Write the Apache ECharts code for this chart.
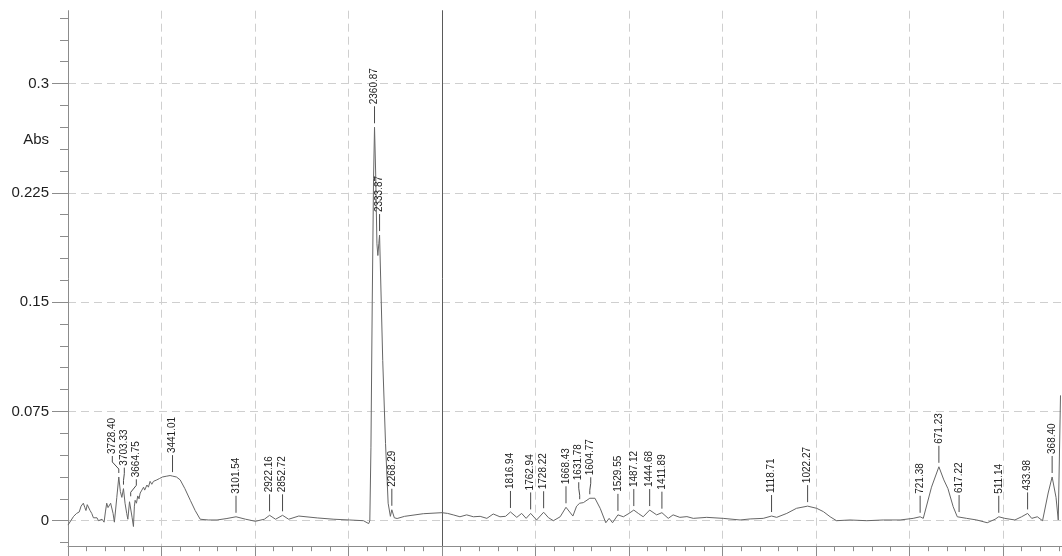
<!DOCTYPE html>
<html><head><meta charset="utf-8">
<script src="https://cdn.jsdelivr.net/npm/echarts@6/dist/echarts.min.js"></script>
<style>html,body{margin:0;padding:0;background:#fff}#c{width:1062px;height:556px}</style>
</head><body><div id="c"></div>
<script>
// ---- spectrum (wavenumber cm-1, absorbance) ----
const wavenumbers = [4000,3985,3970,3954,3940,3930,3918,3910,3904,3897,3891,3882,3873,3864,3855,3845,3837,3829,3818,3807,3800,3793,3786,3779,3772,3766,3759,3752,3745,3739,3728.4,3720,3712,3703.3,3695,3686,3680,3671,3664.75,3657,3650,3645,3641,3634,3627,3620,3614,3605,3596,3590,3578,3570,3561,3552,3543,3534,3525,3510,3495,3475,3454,3441,3420,3400,3375,3346,3320,3293,3250,3203,3150,3101.5,3050,2998,2950,2922,2890,2852.7,2820,2766,2667,2578,2494,2420,2392,2386,2380,2373,2366,2360.87,2355,2348,2343,2338,2333.87,2317,2302,2288,2276,2268.3,2262,2255,2240,2200,2100,2000,
  1985,1970,1952,1934,1916,1898,1880,1863,1845,1830,1816.94,1800,1787,1775,1762.94,1747,1728.22,1715,1702,1684,1668.43,1650,1640,1631.78,1622,1604.77,1591,1577,1562,1553,1544,1529.55,1515,1500,1487.12,1475,1462,1444.68,1426,1411.89,1395,1382,1364,1345,1328,1292,1248,1203,1176,1141,1118.71,1105,1078,1052,1022.27,998,980,962,945,909,864,820,775,740,721.38,713,691,671.23,658,647,633,622,617.22,597,570,542,521,511.14,495,468,450,433.98,423,408,394,379,368.4,358,352,346];
const absorbance = [-0.003,0.000,0.003,0.005,0.006,0.010,0.012,0.009,0.007,0.011,0.010,0.007,0.005,0.002,0.001,0.002,0.000,0.000,0.001,-0.001,0.006,0.012,0.009,0.010,0.012,0.011,0.005,-0.001,0.008,0.016,0.030,0.020,0.016,0.022,0.012,0.005,0.001,0.013,0.014,0.002,-0.004,0.010,0.014,0.012,0.017,0.015,0.019,0.021,0.023,0.021,0.0245,0.023,0.027,0.025,0.027,0.026,0.028,0.029,0.030,0.0305,0.031,0.0306,0.030,0.028,0.022,0.014,0.007,0.001,0.0005,0.0005,0.0015,0.0027,0.001,-0.0004,0.001,0.0037,0.001,0.0037,0.001,0.0032,0.0019,0.001,0.0005,0.000,-0.002,0.000,0.050,0.150,0.235,0.270,0.240,0.190,0.182,0.190,0.196,0.110,0.053,0.012,0.003,0.0075,0.0065,0.002,0.0015,0.003,0.0048,0.0055,
  0.005,0.004,0.0027,0.004,0.0027,0.003,0.0016,0.0046,0.0027,0.003,0.006,0.0023,0.005,0.0016,0.005,0.0005,0.0058,0.002,0.000,0.0027,0.0092,0.0032,0.010,0.012,0.0124,0.0154,0.0154,0.0085,-0.0014,0.0016,-0.0014,0.004,0.0027,0.005,0.0073,0.005,0.0027,0.0073,0.004,0.0055,0.0016,0.004,0.0023,0.0028,0.0016,0.0023,0.0016,0.0005,0.0012,0.0016,0.0032,0.0023,0.005,0.0085,0.010,0.0085,0.0062,0.0027,0.000,0.0005,0.000,0.0005,0.0005,0.0016,0.0027,0.0016,0.023,0.037,0.028,0.022,0.0096,0.0027,0.0032,0.0016,0.0005,-0.0014,0.001,0.0027,0.0016,0.0005,0.0027,0.005,0.0016,0.0027,0.000,0.019,0.030,0.016,0.0005,0.086];
// ---- labelled peaks ----
const peakWn  = [3728.40,3703.33,3664.75,3441.01,3101.54,2922.16,2852.72,2360.87,2333.87,2268.29,1816.94,1762.94,1728.22,1668.43,1631.78,1604.77,1529.55,1487.12,1444.68,1411.89,1118.71,1022.27,721.38,671.23,617.22,511.14,433.98,368.40];
const peakAbs = [0.030,0.022,0.014,0.0306,0.0027,0.0037,0.0037,0.270,0.196,0.0075,0.006,0.005,0.0058,0.0092,0.012,0.0154,0.004,0.0073,0.0073,0.0055,0.0032,0.010,0.0027,0.037,0.0032,0.0027,0.005,0.030];
// ---- axis ticks ----
const yTickValues = [0, 0.075, 0.15, 0.225, 0.3];
const rightTickValues = [500, 750, 1000, 1250, 1500, 1750, 2000];
const yLabel = 'Abs';

const yMinor = [];
for (let k = -1; k <= 23; k++) { if (k % 5 !== 0) yMinor.push(+(k * 0.015).toFixed(4)); }
const rightMinor = [];
for (let v = 350; v < 2000; v += 50) { if (v % 250 !== 0) rightMinor.push(v); }

const FONT = '"Liberation Sans", Arial, sans-serif';
const AX = '#8c8c8c';
const GRIDC = '#cfcfcf';
const YMIN = -0.0175, YMAX = 0.35;

const leftData = [], rightData = [];
wavenumbers.forEach((w, i) => {
  if (w >= 2000) leftData.push([w, absorbance[i]]);
  if (w <= 2000) rightData.push([w, absorbance[i]]);
});
const leftPeaks = [], rightPeaks = [];
peakWn.forEach((w, i) => (w > 2000 ? leftPeaks : rightPeaks).push({ wn: w, abs: peakAbs[i] }));

const GAP = 4, LINE_TOP = 21, TEXT_OFF = 23, TEXT_LEN = 37, SEP = 12;

function spreadLabels(pts) {
  const order = pts.map((p, i) => i).sort((a, b) => pts[a][0] - pts[b][0]);
  const xs = order.map(i => pts[i][0]);
  const ys = order.map(i => pts[i][1]);
  let groups = xs.map((x, i) => ({ start: i, n: 1, center: x }));
  let changed = true;
  while (changed) {
    changed = false;
    for (let g = 0; g < groups.length - 1; g++) {
      const a = groups[g], b = groups[g + 1];
      const aEnd = a.center + (a.n - 1) * SEP / 2;
      const bStart = b.center - (b.n - 1) * SEP / 2;
      const ia = a.start + a.n - 1, ib = b.start;
      const topA = ys[ia] - TEXT_OFF - TEXT_LEN, botA = ys[ia] - GAP;
      const topB = ys[ib] - TEXT_OFF - TEXT_LEN, botB = ys[ib] - GAP;
      const vOverlap = !(botA < topB || botB < topA);
      if (bStart - aEnd < SEP && vOverlap) {
        const n = a.n + b.n;
        let sum = 0;
        for (let k = a.start; k < a.start + n; k++) sum += xs[k];
        groups.splice(g, 2, { start: a.start, n: n, center: sum / n });
        changed = true;
        break;
      }
    }
  }
  const out = [];
  groups.forEach(g => {
    for (let k = 0; k < g.n; k++) out[order[g.start + k]] = g.center + (k - (g.n - 1) / 2) * SEP;
  });
  return out;
}

function labelSeries(xIdx, yIdx, list) {
  return {
    type: 'custom', xAxisIndex: xIdx, yAxisIndex: yIdx, silent: true, clip: false, z: 5,
    data: list.map(p => [p.wn, p.abs]),
    renderItem: function (params, api) {
      const pts = list.map(p => api.coord([p.wn, p.abs]));
      const lxs = spreadLabels(pts);
      const i = params.dataIndex;
      const px = pts[i][0], py = pts[i][1], lx = lxs[i];
      let points;
      if (Math.abs(lx - px) < 0.5) points = [[px, py - GAP], [px, py - LINE_TOP]];
      else points = [[px, py - GAP], [px, py - 8], [lx, py - 15], [lx, py - LINE_TOP]];
      return {
        type: 'group',
        children: [
          { type: 'polyline', shape: { points: points }, style: { stroke: '#4a4a4a', lineWidth: 1, fill: null } },
          { type: 'text', x: lx, y: py - TEXT_OFF, rotation: Math.PI / 2,
            style: { text: list[i].wn.toFixed(2), fontSize: 10, fontFamily: FONT, fill: '#222',
                     align: 'left', verticalAlign: 'middle' } }
        ]
      };
    }
  };
}

const dashed = { show: true, lineStyle: { color: GRIDC, type: [8, 5], width: 1 } };

const option = {
  animation: false,
  backgroundColor: '#fff',
  grid: [
    { left: 68, top: 10.7, width: 374, height: 535.5 },
    { left: 442, top: 10.7, width: 620, height: 535.5 }
  ],
  xAxis: [
    { gridIndex: 0, type: 'value', min: 2000, max: 4000, interval: 500, inverse: true, position: 'bottom',
      axisLine: { show: true, onZero: false, lineStyle: { color: AX } },
      axisTick: { show: true, length: 10, lineStyle: { color: AX } },
      minorTick: { show: true, splitNumber: 5, length: 5, lineStyle: { color: AX } },
      axisLabel: { show: false }, splitLine: dashed },
    { gridIndex: 1, type: 'value', min: 342, max: 2000, inverse: true, position: 'bottom',
      axisLine: { show: true, onZero: false, lineStyle: { color: AX } },
      axisTick: { show: true, length: 10, customValues: rightTickValues, lineStyle: { color: AX } },
      axisLabel: { show: false, customValues: rightTickValues }, splitLine: dashed },
    { gridIndex: 1, type: 'value', min: 342, max: 2000, inverse: true, position: 'bottom',
      axisLine: { show: false, onZero: false },
      axisTick: { show: true, length: 5, customValues: rightMinor, lineStyle: { color: AX } },
      axisLabel: { show: false, customValues: rightMinor }, splitLine: { show: false } }
  ],
  yAxis: [
    { gridIndex: 0, type: 'value', min: YMIN, max: YMAX, position: 'left',
      axisLine: { show: true, onZero: false, lineStyle: { color: AX } },
      axisTick: { show: true, length: 16, customValues: yTickValues, lineStyle: { color: AX } },
      axisLabel: { show: true, customValues: yTickValues, margin: 19, fontSize: 15, fontFamily: FONT, color: '#1e1e1e' },
      splitLine: dashed },
    { gridIndex: 0, type: 'value', min: YMIN, max: YMAX, position: 'left',
      axisLine: { show: false, onZero: false },
      axisTick: { show: true, length: 8, customValues: yMinor, lineStyle: { color: AX } },
      axisLabel: { show: false, customValues: yMinor }, splitLine: { show: false } },
    { gridIndex: 1, type: 'value', min: YMIN, max: YMAX, position: 'left',
      axisLine: { show: true, onZero: false, lineStyle: { color: '#5a5a5a', width: 1 } },
      axisTick: { show: false, customValues: yTickValues },
      axisLabel: { show: false, customValues: yTickValues },
      splitLine: dashed }
  ],
  graphic: [
    { type: 'text', x: 49, y: 140, z: 10,
      style: { text: yLabel, fontSize: 15, fontFamily: FONT, fill: '#1e1e1e', align: 'right', verticalAlign: 'middle' } }
  ],
  series: [
    { type: 'line', xAxisIndex: 0, yAxisIndex: 0, data: leftData, symbol: 'none', smooth: false,
      lineStyle: { color: '#666', width: 1 }, z: 3 },
    { type: 'line', xAxisIndex: 1, yAxisIndex: 2, data: rightData, symbol: 'none', smooth: false,
      lineStyle: { color: '#666', width: 1 }, z: 3 },
    labelSeries(0, 0, leftPeaks),
    labelSeries(1, 2, rightPeaks)
  ]
};

const chart = echarts.init(document.getElementById('c'), null, { renderer: 'canvas' });
chart.setOption(option);
</script>
</body></html>
